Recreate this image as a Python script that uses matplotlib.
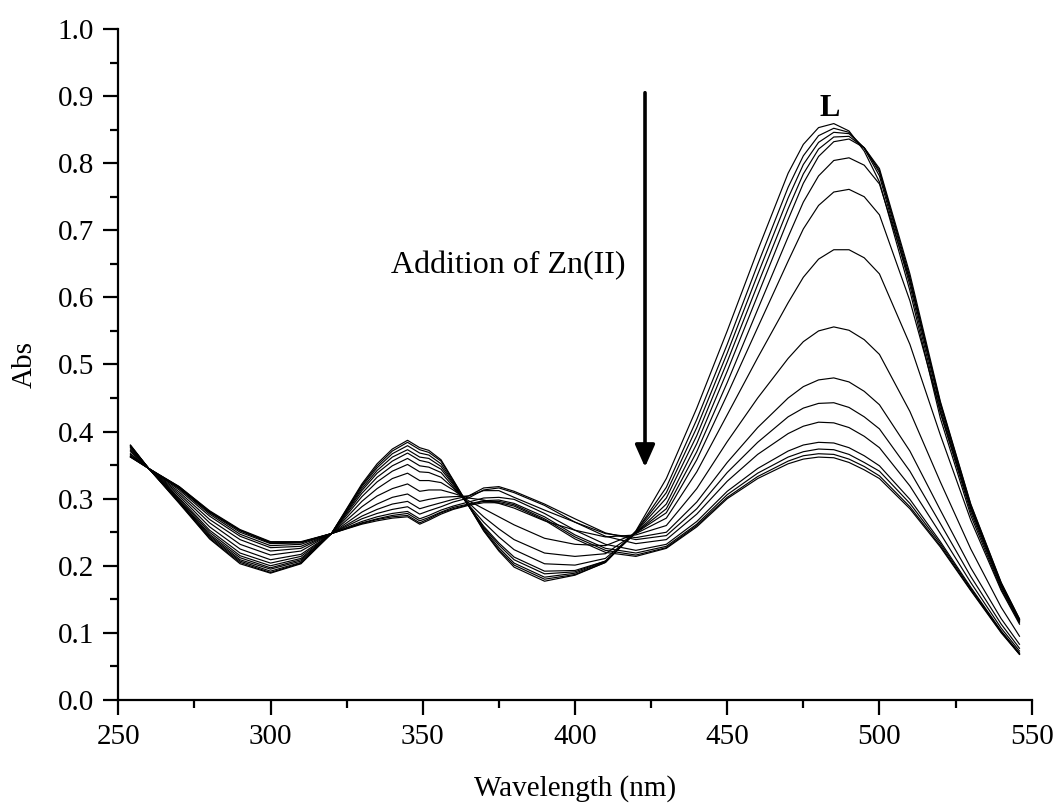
import matplotlib
matplotlib.use("Agg")
import matplotlib.pyplot as plt
from matplotlib.ticker import MultipleLocator, FormatStrFormatter
from matplotlib.patches import ArrowStyle
import numpy as np

# wavelength grid (nm)
wavelength = [254, 260, 270, 280, 290, 300, 310, 320, 330, 335, 340, 345, 349, 352, 356, 360,
              365, 370, 375, 380, 390, 400, 410, 420, 430, 440, 450, 460, 470, 475, 480,
              485, 490, 495, 500, 510, 520, 530, 540, 546]

# absorbance x 1000, one row per Zn(II) addition (first row = free L)
spectra_mabs = [
    [380, 345, 293, 240, 203, 189, 203, 248, 322, 352, 374, 387, 376, 372, 358, 328, 290, 252, 222, 198,
     177, 186, 205, 252, 330, 435, 550, 670, 785, 828, 853, 859, 848, 818, 772, 610, 420, 275, 165, 115],
    [379, 345, 294, 241, 205, 190, 204, 248, 320, 349, 371, 384, 373, 369, 356, 327, 290, 253, 224, 201,
     180, 187, 205, 251, 317, 418, 530, 649, 764, 811, 841, 852, 846, 822, 781, 618, 428, 280, 168, 117],
    [379, 345, 295, 243, 207, 192, 205, 248, 318, 346, 367, 379, 368, 365, 352, 325, 290, 255, 227, 204,
     183, 189, 206, 251, 309, 406, 517, 634, 748, 798, 831, 846, 844, 823, 786, 625, 435, 285, 171, 119],
    [378, 345, 296, 245, 209, 195, 207, 248, 315, 342, 362, 373, 362, 360, 348, 323, 290, 257, 231, 209,
     188, 191, 207, 250, 301, 394, 504, 619, 732, 784, 821, 839, 840, 823, 789, 630, 440, 288, 173, 120],
    [377, 345, 297, 247, 212, 197, 209, 248, 312, 338, 356, 368, 357, 354, 344, 321, 290, 259, 234, 213,
     192, 193, 207, 249, 292, 382, 490, 603, 716, 770, 810, 832, 836, 823, 792, 635, 445, 292, 175, 121],
    [376, 345, 299, 250, 215, 200, 211, 248, 308, 332, 349, 360, 349, 347, 339, 318, 291, 265, 243, 224,
     203, 201, 211, 249, 285, 370, 473, 582, 690, 742, 781, 804, 808, 797, 769, 625, 443, 291, 174, 120],
    [374, 345, 301, 253, 219, 204, 214, 248, 303, 325, 341, 351, 340, 339, 332, 316, 294, 273, 255, 239,
     219, 214, 218, 249, 279, 358, 455, 555, 654, 702, 737, 757, 761, 750, 723, 595, 430, 285, 170, 118],
    [372, 345, 304, 258, 225, 209, 217, 248, 296, 315, 330, 338, 327, 327, 324, 313, 297, 285, 273, 261,
     241, 232, 230, 248, 271, 340, 425, 510, 592, 630, 657, 671, 671, 659, 635, 530, 395, 268, 163, 113],
    [370, 345, 307, 264, 232, 216, 222, 248, 288, 304, 315, 322, 311, 313, 313, 308, 301, 298, 293, 286,
     267, 253, 243, 246, 260, 315, 385, 450, 509, 534, 550, 556, 551, 537, 515, 430, 325, 225, 138, 95],
    [367, 345, 310, 269, 239, 222, 226, 248, 280, 292, 302, 307, 296, 299, 302, 303, 304, 312, 312, 302,
     283, 265, 248, 242, 250, 295, 354, 406, 450, 467, 477, 480, 474, 460, 440, 371, 283, 197, 121, 83],
    [366, 345, 313, 274, 244, 227, 229, 248, 274, 284, 292, 296, 285, 289, 294, 299, 304, 316, 318, 311,
     292, 270, 249, 239, 245, 285, 339, 384, 422, 435, 442, 443, 436, 422, 404, 341, 263, 184, 113, 77],
    [364, 345, 315, 277, 247, 230, 232, 248, 270, 278, 284, 288, 277, 282, 288, 295, 301, 313, 316, 309,
     290, 265, 244, 233, 239, 277, 326, 366, 397, 408, 414, 413, 406, 393, 376, 319, 248, 175, 107, 73],
    [363, 345, 316, 279, 250, 233, 234, 248, 266, 273, 278, 281, 270, 275, 283, 289, 295, 301, 302, 299,
     278, 253, 232, 223, 232, 266, 311, 345, 371, 380, 384, 383, 376, 364, 349, 299, 236, 168, 103, 70],
    [363, 345, 317, 280, 252, 234, 235, 248, 264, 270, 275, 278, 267, 272, 280, 287, 292, 297, 298, 293,
     273, 246, 226, 219, 229, 262, 306, 338, 362, 370, 374, 373, 366, 354, 341, 293, 233, 166, 102, 69],
    [362, 345, 318, 281, 253, 235, 235, 248, 263, 269, 273, 275, 264, 270, 279, 285, 291, 296, 296, 291,
     270, 243, 223, 216, 227, 260, 302, 333, 356, 364, 367, 366, 359, 348, 334, 288, 230, 164, 101, 68],
    [362, 345, 318, 282, 254, 236, 236, 248, 262, 267, 271, 273, 262, 268, 277, 284, 290, 294, 294, 289,
     268, 240, 220, 214, 226, 258, 300, 330, 352, 359, 362, 361, 354, 343, 330, 285, 228, 163, 100, 68],
]

plt.rcParams['font.family'] = ['Liberation Serif', 'DejaVu Serif']
fig = plt.figure(figsize=(10.59, 8.07), dpi=100)
ax = fig.add_axes([0.1117, 0.1326, 0.8625, 0.8315])

for row in spectra_mabs:
    ax.plot(wavelength, np.array(row) / 1000.0, color='black', lw=0.85)

ax.set_xlim(250, 550)
ax.set_ylim(0, 1.0)
for side in ['top', 'right']:
    ax.spines[side].set_visible(False)
for side in ['left', 'bottom']:
    ax.spines[side].set_linewidth(1.6)
ax.xaxis.set_major_locator(MultipleLocator(50))
ax.xaxis.set_minor_locator(MultipleLocator(25))
ax.yaxis.set_major_locator(MultipleLocator(0.1))
ax.yaxis.set_minor_locator(MultipleLocator(0.05))
ax.yaxis.set_major_formatter(FormatStrFormatter('%.1f'))
ax.tick_params(which='major', direction='out', length=10.5, width=1.6, labelsize=21, pad=7)
ax.tick_params(which='minor', direction='out', length=5.5, width=1.6)
ax.set_xlabel('Wavelength (nm)', fontsize=21, labelpad=18)
ax.set_ylabel('Abs', fontsize=21, labelpad=14)

# arrow and annotations
ax.annotate('', xy=(423, 0.347), xytext=(423, 0.905),
            arrowprops=dict(arrowstyle=ArrowStyle('-|>', head_length=0.9, head_width=0.4),
                            mutation_scale=15, lw=2.6, color='black', shrinkA=0, shrinkB=0))
ax.text(378, 0.648, 'Addition of Zn(II)', ha='center', va='center', fontsize=23)
ax.text(483.5, 0.882, 'L', ha='center', va='center', fontsize=22, fontweight='bold')

fig.savefig('out.png', dpi=100)
